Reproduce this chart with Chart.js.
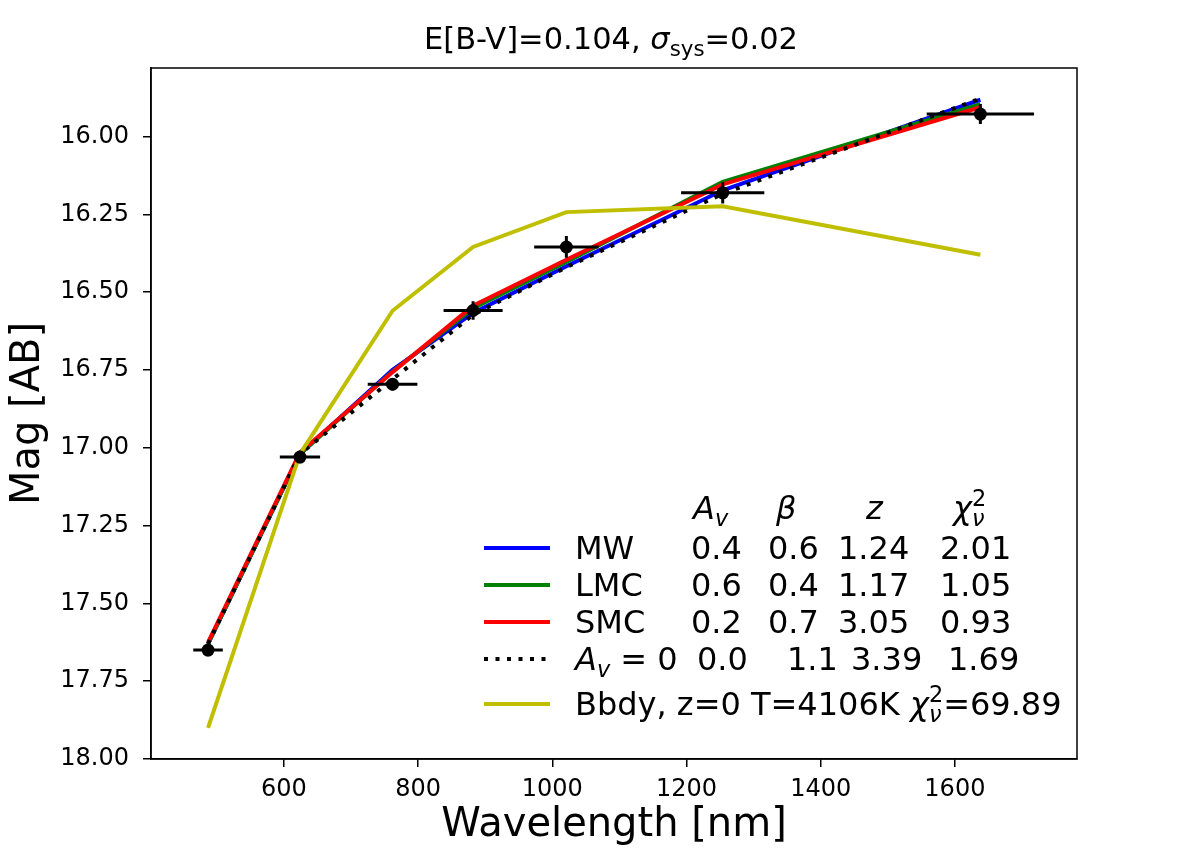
<!DOCTYPE html>
<html>
<head>
<meta charset="utf-8">
<script src="https://cdn.jsdelivr.net/npm/chart.js@4.4.1/dist/chart.umd.min.js"></script>
<style>
  html, body { margin: 0; padding: 0; background: #fff; }
  #sed { display: block; }
</style>
</head>
<body>
<canvas id="sed" width="1196" height="858"></canvas>
<script>
// photometry (filter centres, half widths, AB mags, errors)
const wavelengths = [487, 624, 762, 882, 1021, 1254, 1638];
const waveErr = [22, 30, 37, 44, 48, 62, 80];
const mags = [17.65, 17.03, 16.796, 16.559, 16.355, 16.181, 15.928];
const magErr = [0.02, 0.02, 0.02, 0.03, 0.035, 0.034, 0.032];

// model curves, evaluated at the same wavelengths
const mwModel = [17.63, 17.02, 16.75, 16.567, 16.417, 16.173, 15.882];
const lmcModel = [17.63, 17.02, 16.755, 16.552, 16.403, 16.146, 15.896];
const smcModel = [17.625, 17.015, 16.757, 16.544, 16.396, 16.154, 15.906];
const noDustModel = [17.63, 17.02, 16.78, 16.573, 16.42, 16.184, 15.878];
const bbodyModel = [17.90, 17.02, 16.56, 16.355, 16.243, 16.224, 16.38];

const xTicks = [600, 800, 1000, 1200, 1400, 1600];
const yTicks = [16.00, 16.25, 16.50, 16.75, 17.00, 17.25, 17.50, 17.75, 18.00];

// legend table
const fitNames = ['MW', 'LMC', 'SMC'];
const fitAv = ['0.4', '0.6', '0.2'];
const fitBeta = ['0.6', '0.4', '0.7'];
const fitZ = ['1.24', '1.17', '3.05'];
const fitChi2 = ['2.01', '1.05', '0.93'];
const noDustFit = ['0.0', '1.1', '3.39', '1.69'];
const bbodyTemp = '4106K';
const bbodyChi2 = '69.89';

const FONT = 'DejaVu Sans';

const pts = (ys) => wavelengths.map((w, i) => ({ x: w, y: ys[i] }));

// draws a run of text pieces, some italic / sub / superscript
function drawRich(ctx, parts, x, y, size) {
    let cx = x;
    let held = 0;
    parts.forEach(p => {
        const s = (p.sub || p.sup) ? size * 0.7 : size;
        ctx.font = (p.it ? 'italic ' : '') + s + 'px "' + FONT + '"';
        const dy = p.sub ? size * 0.22 : (p.sup ? -size * 0.42 : 0);
        ctx.fillText(p.t, cx, y + dy);
        const w = ctx.measureText(p.t).width;
        if (p.stack) {
            held = w;
        } else {
            cx += Math.max(w, held);
            held = 0;
        }
    });
    return cx - x;
}

function richWidth(ctx, parts, size) {
    ctx.save();
    ctx.globalAlpha = 0;
    const w = drawRich(ctx, parts, 0, 0, size);
    ctx.restore();
    return w;
}

// frame, error bars, title and the table-like legend
const decorations = {
    id: 'decorations',
    afterDatasetsDraw(chart) {
        const { ctx, chartArea: a, scales: { x, y } } = chart;
        ctx.save();
        ctx.beginPath();
        ctx.rect(a.left, a.top, a.right - a.left, a.bottom - a.top);
        ctx.clip();
        ctx.strokeStyle = '#000';
        ctx.lineWidth = 3;
        wavelengths.forEach((w, i) => {
            const py = y.getPixelForValue(mags[i]);
            const px = x.getPixelForValue(w);
            ctx.beginPath();
            ctx.moveTo(x.getPixelForValue(w - waveErr[i]), py);
            ctx.lineTo(x.getPixelForValue(w + waveErr[i]), py);
            ctx.moveTo(px, y.getPixelForValue(mags[i] - magErr[i]));
            ctx.lineTo(px, y.getPixelForValue(mags[i] + magErr[i]));
            ctx.stroke();
        });
        ctx.restore();
    },
    afterDraw(chart) {
        const { ctx, chartArea: a } = chart;
        ctx.save();
        ctx.strokeStyle = '#000';
        ctx.lineWidth = 1.5;
        ctx.strokeRect(a.left, a.top, a.right - a.left, a.bottom - a.top);

        // title
        ctx.fillStyle = '#000';
        ctx.textBaseline = 'alphabetic';
        ctx.textAlign = 'left';
        const title = [
            { t: 'E[B-V]=0.104, ' }, { t: 'σ', it: true }, { t: 'sys', sub: true }, { t: '=0.02' }
        ];
        const tw = richWidth(ctx, title, 30.5);
        drawRich(ctx, title, (a.left + a.right) / 2 - tw / 2 - 3, 49, 30.5);

        // legend
        const ds = chart.data.datasets;
        const fs = 32;
        const hx0 = 484, hx1 = 550, tx = 575;
        const cols = [691, 768, 838, 940];
        const rowY = [548, 585, 622, 659, 704];
        const handle = (d, yy) => {
            ctx.save();
            ctx.strokeStyle = d.borderColor;
            ctx.lineWidth = d.borderWidth;
            ctx.setLineDash(d.borderDash || []);
            ctx.beginPath();
            ctx.moveTo(hx0, yy);
            ctx.lineTo(hx1, yy);
            ctx.stroke();
            ctx.restore();
        };
        const base = (yy) => yy + 11;

        drawRich(ctx, [{ t: 'A', it: true }, { t: 'v', it: true, sub: true }], 693, 519, fs);
        drawRich(ctx, [{ t: 'β', it: true }], 776, 519, fs);
        drawRich(ctx, [{ t: 'z', it: true }], 866, 519, fs);
        drawRich(ctx, [{ t: 'χ', it: true }, { t: '2', sup: true, stack: true }, { t: 'ν', it: true, sub: true }], 953, 519, fs);

        fitNames.forEach((name, i) => {
            handle(ds[i + 1], rowY[i]);
            const b = base(rowY[i]);
            drawRich(ctx, [{ t: name }], tx, b, fs);
            [fitAv[i], fitBeta[i], fitZ[i], fitChi2[i]].forEach((v, k) => {
                drawRich(ctx, [{ t: v }], cols[k], b, fs);
            });
        });

        handle(ds[4], rowY[3]);
        const b3 = base(rowY[3]);
        drawRich(ctx, [{ t: 'A', it: true }, { t: 'v', it: true, sub: true }, { t: ' = 0' }], tx, b3, fs);
        const noDustCols = [697, 787, 851, 948];
        noDustFit.forEach((v, k) => drawRich(ctx, [{ t: v }], noDustCols[k], b3, fs));

        handle(ds[5], rowY[4]);
        drawRich(ctx, [
            { t: 'Bbdy, z=0 T=' + bbodyTemp + ' ' }, { t: 'χ', it: true },
            { t: '2', sup: true, stack: true }, { t: 'ν', it: true, sub: true }, { t: '=' + bbodyChi2 }
        ], tx, base(rowY[4]), fs);
        ctx.restore();
    }
};

const line = (data, color, order, extra) => Object.assign({
    data: pts(data),
    borderColor: color,
    backgroundColor: color,
    borderWidth: 4,
    pointRadius: 0,
    tension: 0,
    order: order
}, extra || {});

new Chart(document.getElementById('sed'), {
    type: 'line',
    data: {
        datasets: [
            {
                data: pts(mags),
                showLine: false,
                pointRadius: 6.5,
                pointBackgroundColor: '#000',
                pointBorderColor: '#000',
                pointBorderWidth: 0,
                order: 0
            },
            line(mwModel, '#0000ff', 6),
            line(lmcModel, '#008000', 5),
            line(smcModel, '#ff0000', 4),
            line(noDustModel, '#000000', 3, { borderDash: [4, 7.5] }),
            line(bbodyModel, '#bfbf00', 2)
        ]
    },
    options: {
        responsive: false,
        animation: false,
        devicePixelRatio: 1,
        layout: { padding: { left: 0, right: 119, top: 68, bottom: 0 } },
        plugins: { legend: { display: false }, tooltip: { enabled: false } },
        scales: {
            x: {
                type: 'linear',
                min: 402,
                max: 1782,
                afterBuildTicks: (s) => { s.ticks = xTicks.map(v => ({ value: v })); },
                afterFit: (s) => { s.height = 99; },
                grid: { drawOnChartArea: false, drawTicks: true, tickLength: 8, color: '#000', lineWidth: 1.5 },
                border: { display: true, color: '#000', width: 1.5 },
                ticks: {
                    color: '#000', padding: 8, maxRotation: 0,
                    font: { family: FONT, size: 24 },
                    callback: (v) => String(v)
                },
                title: {
                    display: true, text: 'Wavelength [nm]', color: '#000',
                    font: { family: FONT, size: 40 },
                    padding: { top: 0, bottom: 8 }
                }
            },
            y: {
                type: 'linear',
                reverse: true,
                min: 15.78,
                max: 18.0,
                afterBuildTicks: (s) => { s.ticks = yTicks.map(v => ({ value: v })); },
                afterFit: (s) => { s.width = 151; },
                grid: { drawOnChartArea: false, drawTicks: true, tickLength: 8, color: '#000', lineWidth: 1.5 },
                border: { display: true, color: '#000', width: 1.5 },
                ticks: {
                    color: '#000', padding: 14,
                    font: { family: FONT, size: 24 },
                    callback: (v) => v.toFixed(2)
                },
                title: {
                    display: true, text: 'Mag [AB]', color: '#000',
                    font: { family: FONT, size: 40 },
                    padding: { top: 5, bottom: 0 }
                }
            }
        }
    },
    plugins: [decorations]
});
</script>
</body>
</html>
